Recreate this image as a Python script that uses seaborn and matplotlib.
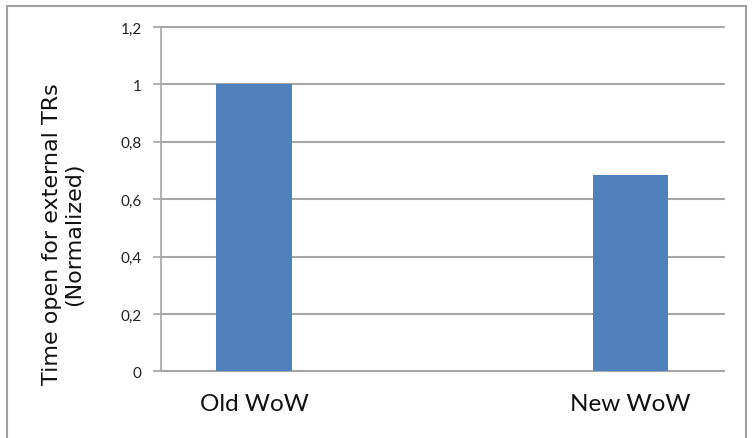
import matplotlib
matplotlib.use("Agg")
import matplotlib.pyplot as plt
import matplotlib.patches as mpatches
import seaborn as sns
import pandas as pd

# Normalized time open for external TRs
categories = ["Old WoW", "New WoW"]
values = [1.0, 0.685]
y_ticks = [0, 0.2, 0.4, 0.6, 0.8, 1.0, 1.2]
y_tick_labels = ["0", "0,2", "0,4", "0,6", "0,8", "1", "1,2"]

df = pd.DataFrame({"version": categories, "time": values})

sns.set_theme(style="white")
plt.rcParams["font.family"] = ["DejaVu Sans"]

grid_gray = "#a6a6a6"

fig = plt.figure(figsize=(7.53, 4.39), dpi=100)
ax = fig.add_axes([0.214, 0.152, 0.747, 0.784])

sns.barplot(data=df, x="version", y="time", color="#4f81bd", width=0.2,
            saturation=1, linewidth=0, ax=ax, zorder=3)

ax.set_xlim(-0.247, 1.247)
ax.set_ylim(0, 1.2)
ax.set_yticks(y_ticks)
ax.set_yticklabels(y_tick_labels, fontfamily="Lato", fontsize=11, color="#222222")
ax.set_xticks(range(len(categories)))
ax.set_xticklabels(categories, fontfamily="Lato", fontsize=17.5, color="#111111")
ax.tick_params(axis="x", length=0, pad=16)
ax.tick_params(axis="y", length=6, width=1.2, color=grid_gray, pad=8, left=True)

for y in y_ticks:
    ax.axhline(y, color=grid_gray, linewidth=1.5, zorder=1, clip_on=False)

for side in ["top", "right"]:
    ax.spines[side].set_visible(False)
for side in ["left", "bottom"]:
    ax.spines[side].set_color(grid_gray)
    ax.spines[side].set_linewidth(1.2)

ax.set_xlabel("")
ax.set_ylabel("Time open for external TRs\n(Normalized)", fontsize=16,
              color="#111111", linespacing=1.15)
ax.yaxis.label.set_va("center")
ax.yaxis.set_label_coords(-0.175, 0.40)

# Chart frame
frame = mpatches.Rectangle((7 / 753, -0.01), 739 / 753, 1 - 7 / 439 + 0.01,
                           transform=fig.transFigure, fill=False,
                           edgecolor="#a0a0a0", linewidth=1.5)
fig.patches.append(frame)

fig.savefig("out.png", dpi=100)
